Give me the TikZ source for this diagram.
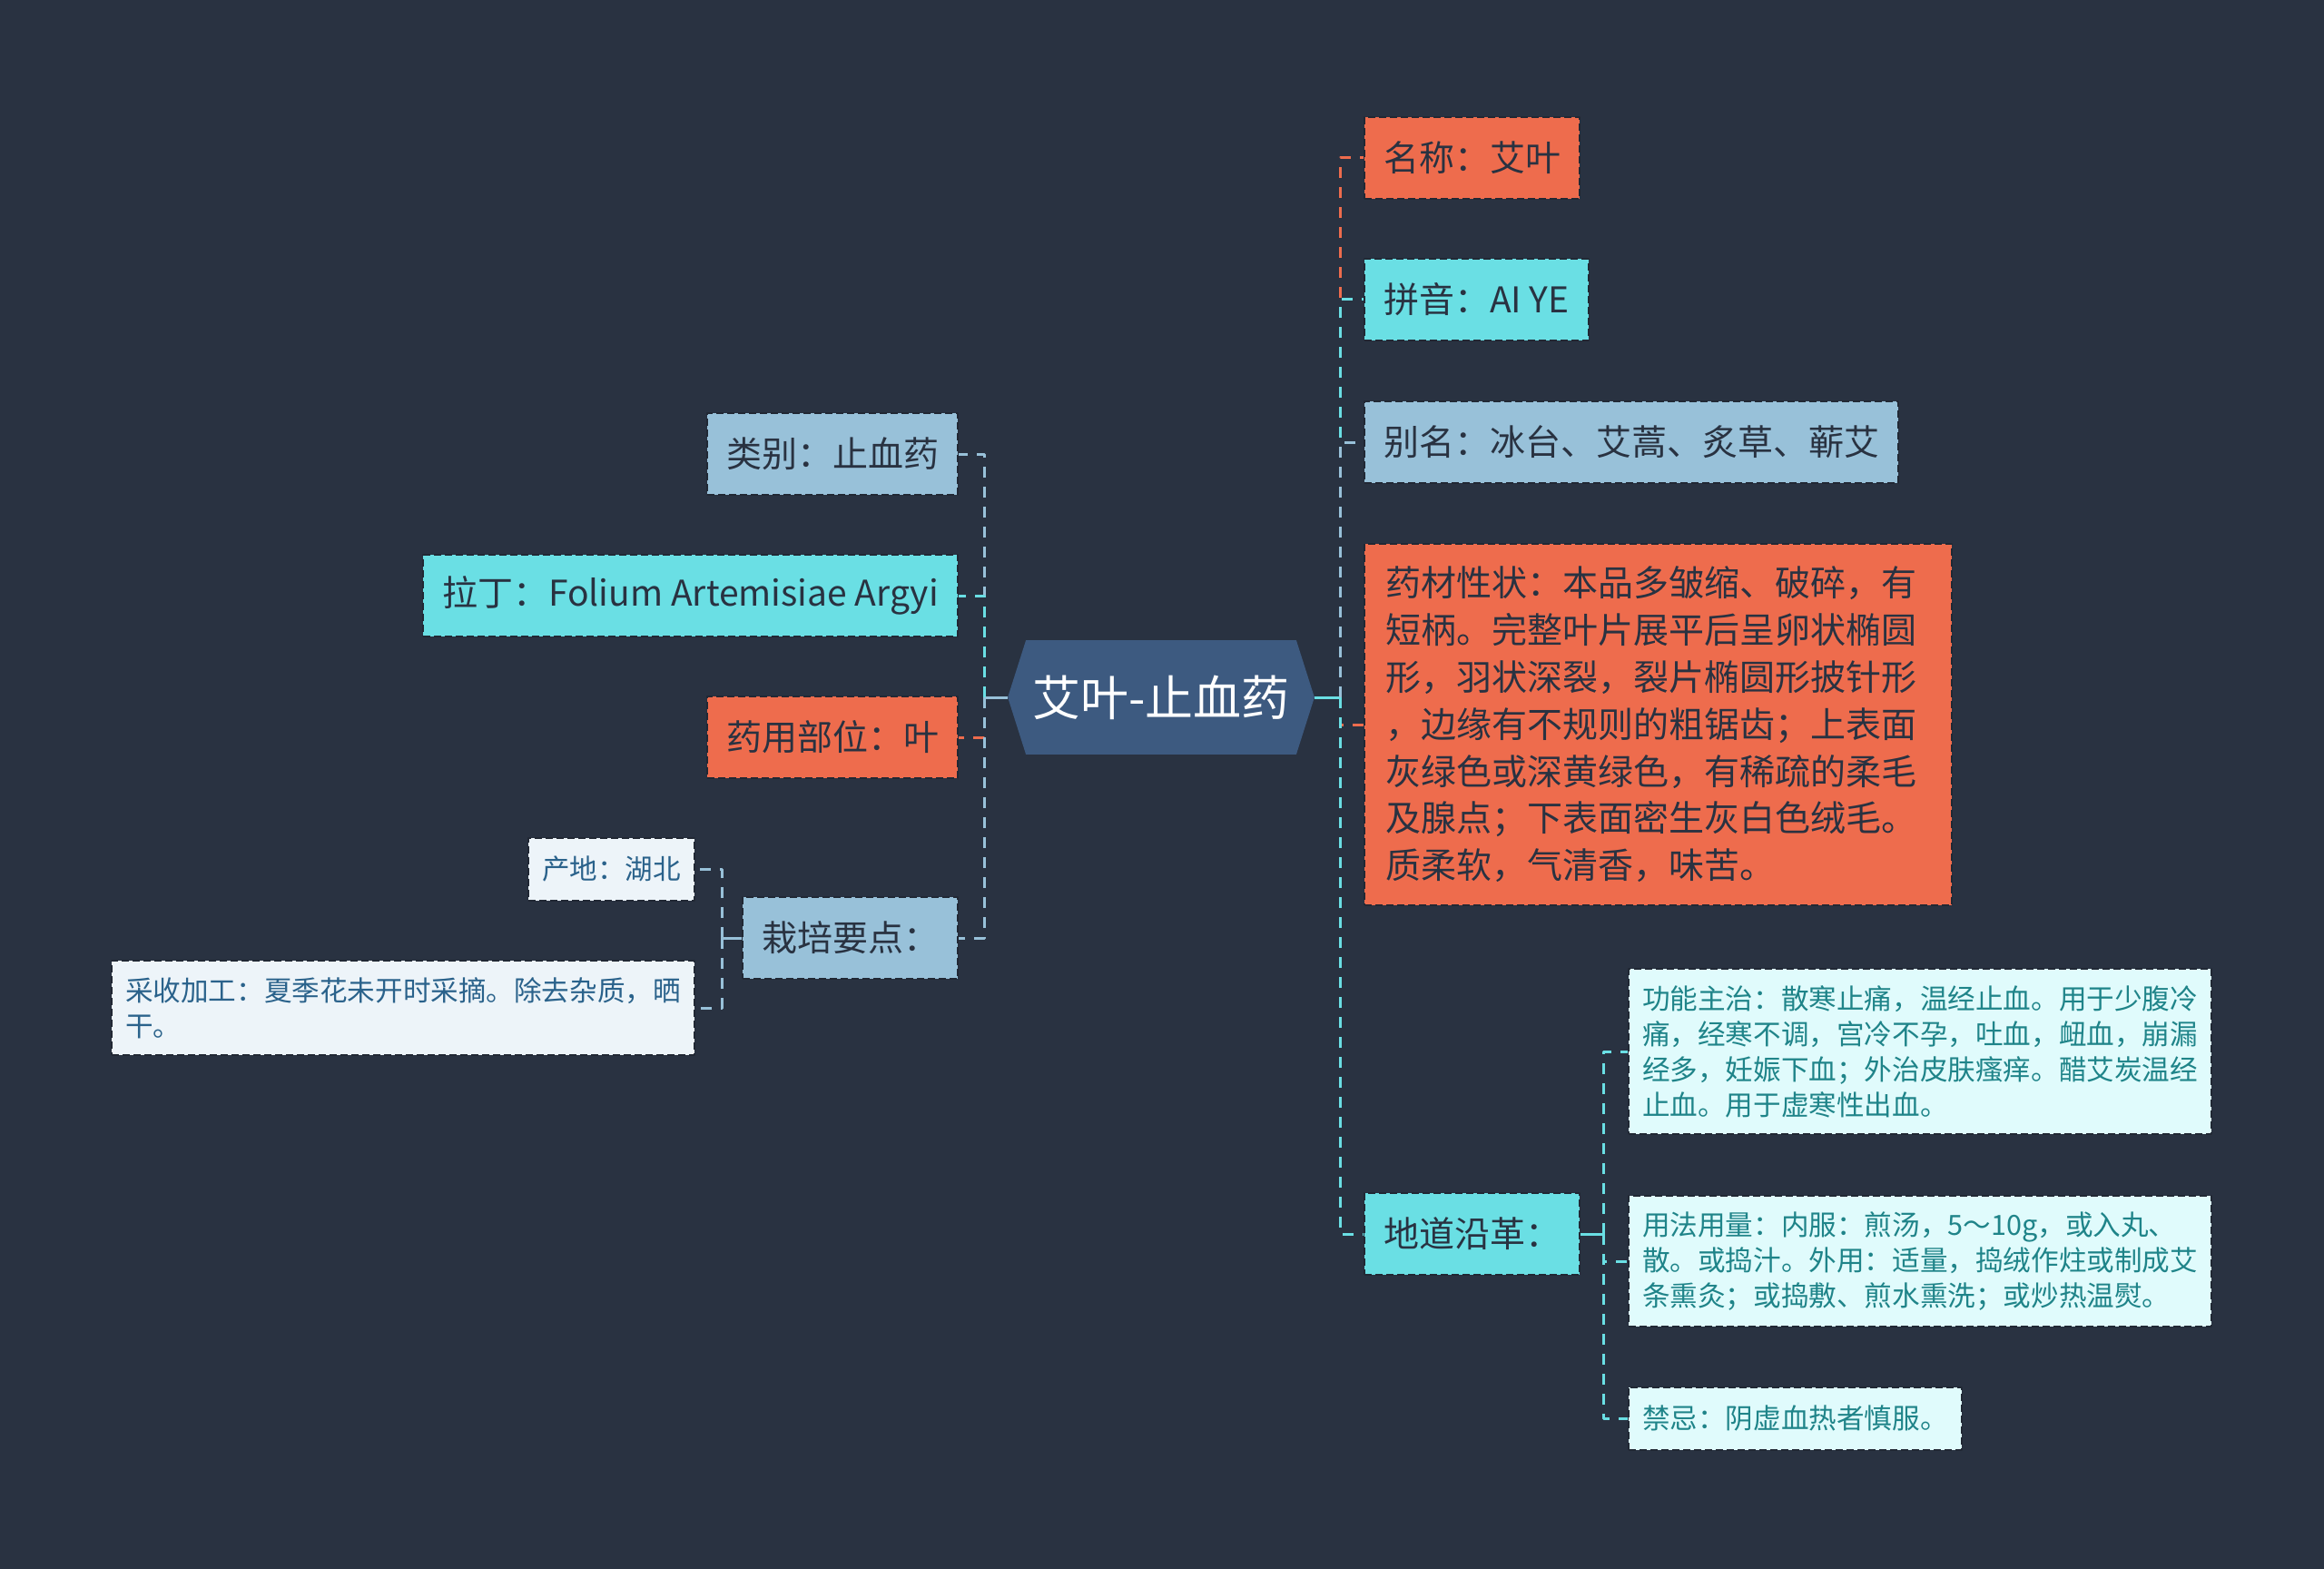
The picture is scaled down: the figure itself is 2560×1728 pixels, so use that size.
\documentclass[tikz,border=0pt]{standalone}
\usepackage{fontspec}
\setmainfont{Noto Sans CJK SC}
\usetikzlibrary{positioning}

\definecolor{bgdark}{HTML}{293241}
\definecolor{rootblue}{HTML}{3D5A80}
\definecolor{coral}{HTML}{EE6C4D}
\definecolor{aqua}{HTML}{6ADFE4}
\definecolor{skyblue}{HTML}{98C1D9}
\definecolor{paleL}{HTML}{EDF4F9}
\definecolor{paleR}{HTML}{E0FBFC}
\definecolor{inkL}{HTML}{2A628B}
\definecolor{inkR}{HTML}{1F8489}

\begin{document}
\begin{tikzpicture}[x=0.5pt, y=-0.5pt, line join=round]

	%======================
	% STYLES
	%======================
	\tikzset{
		hub/.style={text=white, minimum width=168.5pt, minimum height=62.5pt,
			inner sep=0pt, font=\fontsize{26.5pt}{30pt}\selectfont},
		topic/.style={draw=bgdark!80!black, dashed, dash pattern=on 4pt off 2pt,
			line width=1pt, text=bgdark, inner xsep=10.5pt, inner ysep=0pt,
			minimum height=45pt, font=\fontsize{19.5pt}{25.9pt}\selectfont},
		bigtopic/.style={topic, align=left, text width=300.5pt,
			inner xsep=11.5pt, inner ysep=12.5pt},
		leaf/.style={draw=bgdark!80!black, dashed, dash pattern=on 4pt off 2pt,
			line width=1pt, inner xsep=7.5pt, inner ysep=0pt, minimum height=34.5pt,
			font=\fontsize{15.3pt}{19.5pt}\selectfont},
		leafL/.style={leaf, fill=paleL, text=inkL},
		leafR/.style={leaf, fill=paleR, text=inkR},
		bigleaf/.style={align=left, text width=306pt, inner ysep=9pt},
		conn/.style={draw=#1, line width=1.5pt, dash pattern=on 6pt off 5pt},
		stub/.style={draw=#1, line width=1.5pt}
	}

	% canvas
	\fill[bgdark] (0,0) rectangle (2560,1728);
	\useasboundingbox (0,0) rectangle (2560,1728);

	%======================
	% ROOT (hexagon drawn round the node)
	%======================
	\node[hub] (root) at (1279,768) {\phantom{艾叶-止血药}};
	\fill[rootblue] (root.west) -- ([xshift=10pt]root.north west)
		-- ([xshift=-10pt]root.north east) -- (root.east)
		-- ([xshift=-10pt]root.south east) -- ([xshift=10pt]root.south west) -- cycle;
	\node[hub] at (root.center) {艾叶-止血药};

	%----------------------
	% right branch
	%----------------------
	\node[topic, fill=coral, anchor=west] (name) at (1502,174) {名称：艾叶};
	\node[topic, fill=aqua, anchor=west] (pinyin) at (1502,330) {拼音：AI YE};
	\node[topic, fill=skyblue, anchor=west] (alias) at (1502,487) {别名：冰台、艾蒿、炙草、蕲艾};
	\node[topic, bigtopic, fill=coral, anchor=west] (trait) at (1502,798)
		{药材性状：本品多皱缩、破碎，有\\短柄。完整叶片展平后呈卵状椭圆\\形，羽状深裂，裂片椭圆形披针形\\，边缘有不规则的粗锯齿；上表面\\灰绿色或深黄绿色，有稀疏的柔毛\\及腺点；下表面密生灰白色绒毛。\\质柔软，气清香，味苦。};
	\node[topic, fill=aqua, anchor=west] (origin) at (1502,1359) {地道沿革：};

	% children of origin
	\node[leafR, bigleaf, anchor=west] (func) at (1793,1158)
		{功能主治：散寒止痛，温经止血。用于少腹冷\\痛，经寒不调，宫冷不孕，吐血，衄血，崩漏\\经多，妊娠下血；外治皮肤瘙痒。醋艾炭温经\\止血。用于虚寒性出血。};
	\node[leafR, bigleaf, anchor=west] (dose) at (1793,1389)
		{用法用量：内服：煎汤，5～10g，或入丸、\\散。或捣汁。外用：适量，捣绒作炷或制成艾\\条熏灸；或捣敷、煎水熏洗；或炒热温熨。};
	\node[leafR, anchor=west] (taboo) at (1793,1562) {禁忌：阴虚血热者慎服。};

	%----------------------
	% left branch
	%----------------------
	\node[topic, fill=skyblue, anchor=east] (kind) at (1056,500) {类别：止血药};
	\node[topic, fill=aqua, anchor=east] (latin) at (1056,656) {拉丁：Folium Artemisiae Argyi};
	\node[topic, fill=coral, anchor=east] (part) at (1056,812) {药用部位：叶};
	\node[topic, fill=skyblue, anchor=east] (grow) at (1056,1033) {栽培要点：};

	% children of grow
	\node[leafL, anchor=east] (place) at (766,957) {产地：湖北};
	\node[leafL, bigleaf, anchor=east] (harvest) at (766,1110)
		{采收加工：夏季花未开时采摘。除去杂质，晒\\干。};

	%======================
	% CONNECTORS
	%======================
	\coordinate (rt) at (1476,768);   % right trunk
	\coordinate (lt) at (1084,768);   % left trunk
	\coordinate (ot) at (1766,1359);  % origin trunk
	\coordinate (gt) at (795,1033);   % grow trunk

	\draw[stub=aqua] (root.east) -- (rt);
	\draw[stub=skyblue] (root.west) -- (lt);

	\draw[conn=coral] (rt) |- (name.west);
	\draw[conn=aqua] (rt) |- (pinyin.west);
	\draw[conn=skyblue] (rt) |- (alias.west);
	\draw[conn=coral] (rt) |- (trait.west);
	\draw[conn=aqua] (rt) |- (origin.west);

	\draw[conn=skyblue] (lt) |- (kind.east);
	\draw[conn=aqua] (lt) |- (latin.east);
	\draw[conn=coral] (lt) |- (part.east);
	\draw[conn=skyblue] (lt) |- (grow.east);

	\draw[stub=aqua] (origin.east) -- (ot);
	\draw[conn=aqua] (ot) |- (func.west);
	\draw[conn=aqua] (ot) |- (dose.west);
	\draw[conn=aqua] (ot) |- (taboo.west);

	\draw[stub=skyblue] (grow.west) -- (gt);
	\draw[conn=skyblue] (gt) |- (place.east);
	\draw[conn=skyblue] (gt) |- (harvest.east);

\end{tikzpicture}
\end{document}
